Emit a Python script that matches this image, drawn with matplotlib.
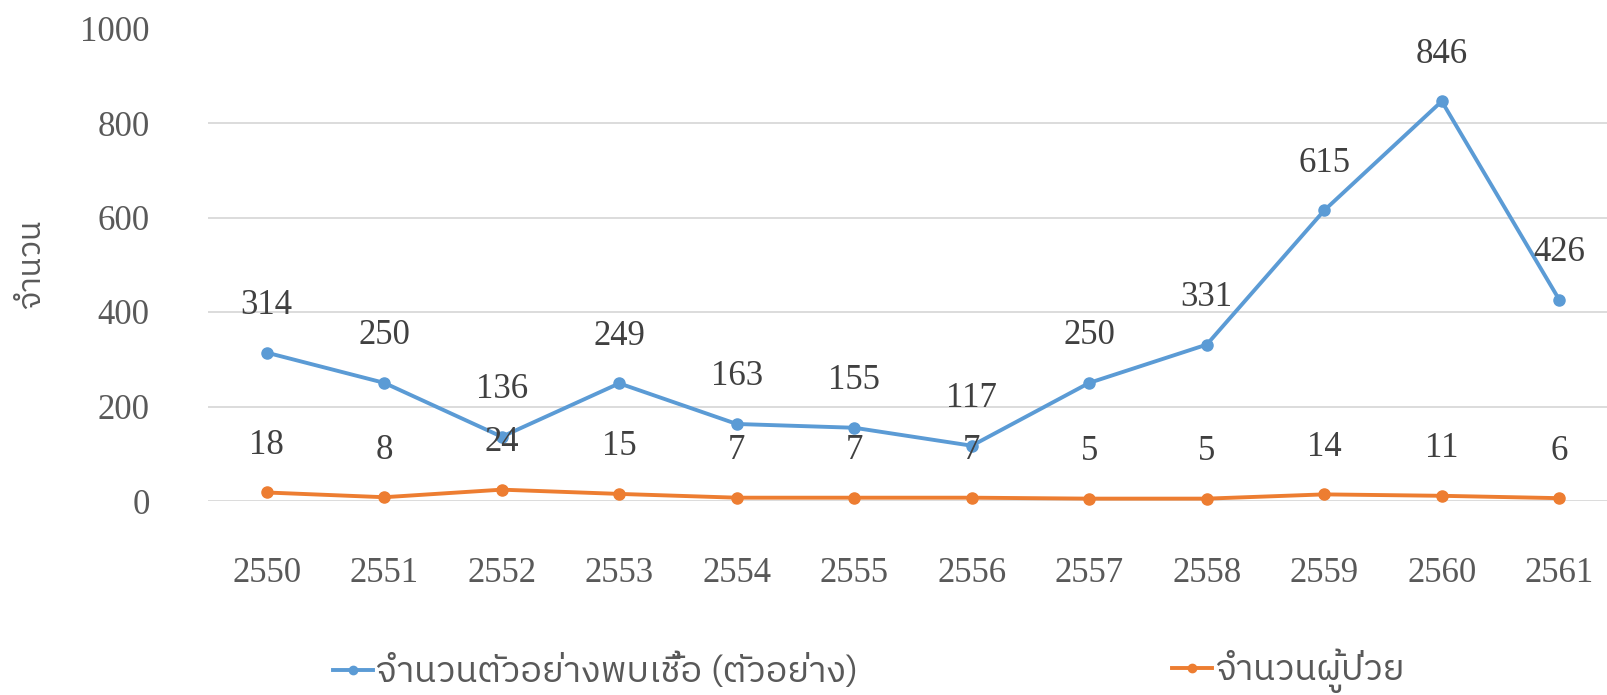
import matplotlib
matplotlib.use('Agg')
import matplotlib.pyplot as plt
from matplotlib import font_manager
from matplotlib.lines import Line2D
from fontTools.ttLib import TTFont

# ข้อมูลจากกราฟ
years = ['2550', '2551', '2552', '2553', '2554', '2555',
         '2556', '2557', '2558', '2559', '2560', '2561']
samples = [314, 250, 136, 249, 163, 155, 117, 250, 331, 615, 846, 426]
patients = [18, 8, 24, 15, 7, 7, 7, 5, 5, 14, 11, 6]
y_ticks = [0, 200, 400, 600, 800, 1000]
y_label = 'จำนวน'
series_names = ['จำนวนตัวอย่างพบเชื้อ (ตัวอย่าง)', 'จำนวนผู้ป่วย']

BLUE = '#5B9BD5'
ORANGE = '#ED7D31'
TICK_COLOR = '#595959'
LABEL_COLOR = '#404040'
NUM_SIZE = 25


def find_thai_fonts():
    # หาฟอนต์ที่มีอักษรไทย
    found = []
    for f in font_manager.fontManager.ttflist:
        if f.name in found:
            continue
        try:
            cmap = TTFont(f.fname, fontNumber=0, lazy=True).getBestCmap()
        except Exception:
            continue
        if cmap and ord('จ') in cmap and ord('ำ') in cmap and ord('้') in cmap:
            found.append(f.name)
    found.sort(key=lambda n: (0 if 'Sans' in n else 1, n))
    return found


thai_fonts = find_thai_fonts()
thai_family = thai_fonts[:1] + ['DejaVu Sans']
serif_family = ['Liberation Serif', 'DejaVu Serif']

fig = plt.figure(figsize=(16.08, 6.95), dpi=100)
ax = fig.add_axes([208 / 1608, (695 - 501) / 695, 1410 / 1608, 472.5 / 695])

x = list(range(len(years)))
ax.plot(x, samples, color=BLUE, lw=2.8, marker='o', ms=8, clip_on=False, zorder=3)
ax.plot(x, patients, color=ORANGE, lw=2.8, marker='o', ms=8, clip_on=False, zorder=3)

for i, v in enumerate(samples):
    ax.annotate(str(v), (i, v), xytext=(0, 47), textcoords='offset pixels',
                ha='center', va='center', fontsize=NUM_SIZE, color=LABEL_COLOR,
                family=serif_family, zorder=4)
for i, v in enumerate(patients):
    ax.annotate(str(v), (i, v), xytext=(0, 47), textcoords='offset pixels',
                ha='center', va='center', fontsize=NUM_SIZE, color=LABEL_COLOR,
                family=serif_family, zorder=4)

ax.set_xlim(-0.5, len(years) - 0.5)
ax.set_ylim(0, 1000)
ax.set_xticks(x)
ax.set_xticklabels(years)
ax.set_yticks(y_ticks)
for lab in ax.get_xticklabels() + ax.get_yticklabels():
    lab.set_family(serif_family)
    lab.set_fontsize(NUM_SIZE)
    lab.set_color(TICK_COLOR)
ax.tick_params(axis='both', length=0)
ax.tick_params(axis='x', pad=40)
ax.tick_params(axis='y', pad=42)
ax.grid(axis='y', color='#D9D9D9', lw=1.3)
ax.set_axisbelow(True)
for s in ax.spines.values():
    s.set_visible(False)

ax.set_ylabel(y_label, family=thai_family, fontsize=23, color=TICK_COLOR)
ax.yaxis.set_label_coords((46 - 208) / 1410, 0.5)

# คำอธิบายสัญลักษณ์ สองชุดแยกตำแหน่ง
h1 = Line2D([], [], color=BLUE, lw=2.8, marker='o', ms=6)
h2 = Line2D([], [], color=ORANGE, lw=2.8, marker='o', ms=6)
leg_y = 1 - 671 / 695
for h, name, x0 in [(h1, series_names[0], 333), (h2, series_names[1], 1172)]:
    leg = fig.legend([h], [name], loc='center left', bbox_to_anchor=(x0 / 1608, leg_y),
                     frameon=False, borderpad=0, borderaxespad=0,
                     handlelength=1.1, handletextpad=0.1,
                     prop={'family': thai_family, 'size': 26})
    for t in leg.get_texts():
        t.set_color(TICK_COLOR)

fig.savefig('out.png', dpi=100)
